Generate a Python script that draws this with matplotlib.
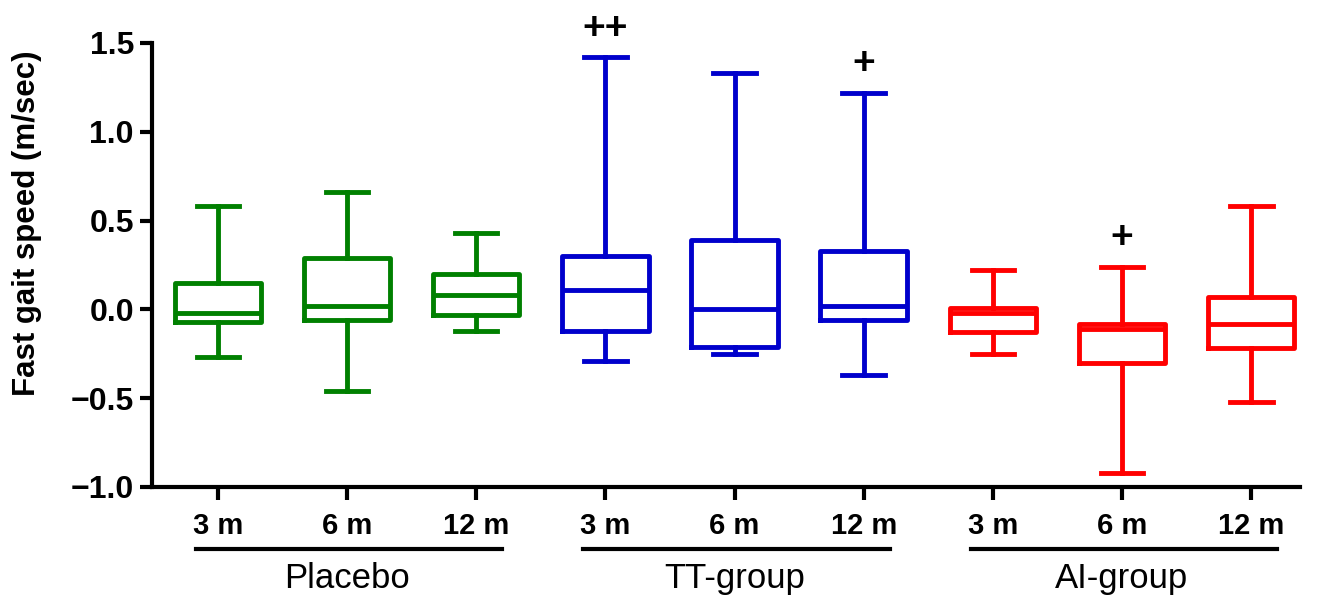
import matplotlib
matplotlib.use("Agg")
import matplotlib.pyplot as plt
import matplotlib.transforms as mtransforms

plt.rcParams['font.family'] = ['Liberation Sans', 'DejaVu Sans']

# box stats: whisker low, Q1, median, Q3, whisker high
tick_labels = ["3 m", "6 m", "12 m"] * 3
groups = ["Placebo", "TT-group", "AI-group"]
group_colors = ["#008000", "#0000cc", "#ff0000"]

w_low = [-0.27, -0.46, -0.12, -0.29, -0.25, -0.37, -0.25, -0.92, -0.52]
q1 = [-0.07, -0.06, -0.03, -0.12, -0.21, -0.06, -0.13, -0.30, -0.22]
median = [-0.02, 0.02, 0.08, 0.11, 0.00, 0.02, -0.02, -0.11, -0.08]
q3 = [0.15, 0.29, 0.20, 0.30, 0.39, 0.33, 0.01, -0.08, 0.07]
w_high = [0.58, 0.66, 0.43, 1.42, 1.33, 1.22, 0.22, 0.24, 0.58]

marks = {3: "++", 5: "+", 7: "+"}

stats = []
for i in range(9):
    stats.append(dict(whislo=w_low[i], q1=q1[i], med=median[i], q3=q3[i],
                      whishi=w_high[i], fliers=[]))

fig = plt.figure(figsize=(13.26, 6.01), dpi=100)
ax = fig.add_axes([0.1146, 0.1897, 0.866, 0.7388])

for i in range(9):
    c = group_colors[i // 3]
    lp = dict(color=c, linewidth=3.5)
    ax.bxp([stats[i]], positions=[i], widths=0.67, showfliers=False,
           boxprops=lp, whiskerprops=lp, capprops=lp, medianprops=lp,
           capwidths=0.33)

for i, m in marks.items():
    ax.text(i, w_high[i] + 0.06, m, ha="center", va="bottom", fontsize=28,
            fontweight="bold", clip_on=False)

ax.set_xlim(-0.51, 8.38)
ax.set_ylim(-1.0, 1.5)
ax.set_yticks([-1.0, -0.5, 0.0, 0.5, 1.0, 1.5])
ax.set_yticklabels(["\u22121.0", "\u22120.5", "0.0", "0.5", "1.0", "1.5"])
ax.set_xticks(range(9))
ax.set_xticklabels(tick_labels)
ax.tick_params(axis="both", width=3, length=9, pad=4)
ax.tick_params(axis="y", labelsize=23)
ax.tick_params(axis="x", labelsize=21, pad=9)
for lab in ax.get_xticklabels() + ax.get_yticklabels():
    lab.set_fontweight("bold")
ax.spines["top"].set_visible(False)
ax.spines["right"].set_visible(False)
ax.spines["left"].set_linewidth(3)
ax.spines["bottom"].set_linewidth(3)
ax.set_ylabel("Fast gait speed (m/sec)", fontsize=22.5, fontweight="bold")
ax.yaxis.set_label_coords(-0.096, 0.595)

trans = mtransforms.blended_transform_factory(ax.transData, ax.transAxes)
for g in range(3):
    x0 = g * 3 - 0.17
    x1 = g * 3 + 2.2
    ax.plot([x0, x1], [-0.14, -0.14], color="black", linewidth=3,
            transform=trans, clip_on=False)
    ax.text(g * 3 + 1, -0.205, groups[g], ha="center", va="center",
            fontsize=25, transform=trans)

fig.savefig("out.png", dpi=100)
